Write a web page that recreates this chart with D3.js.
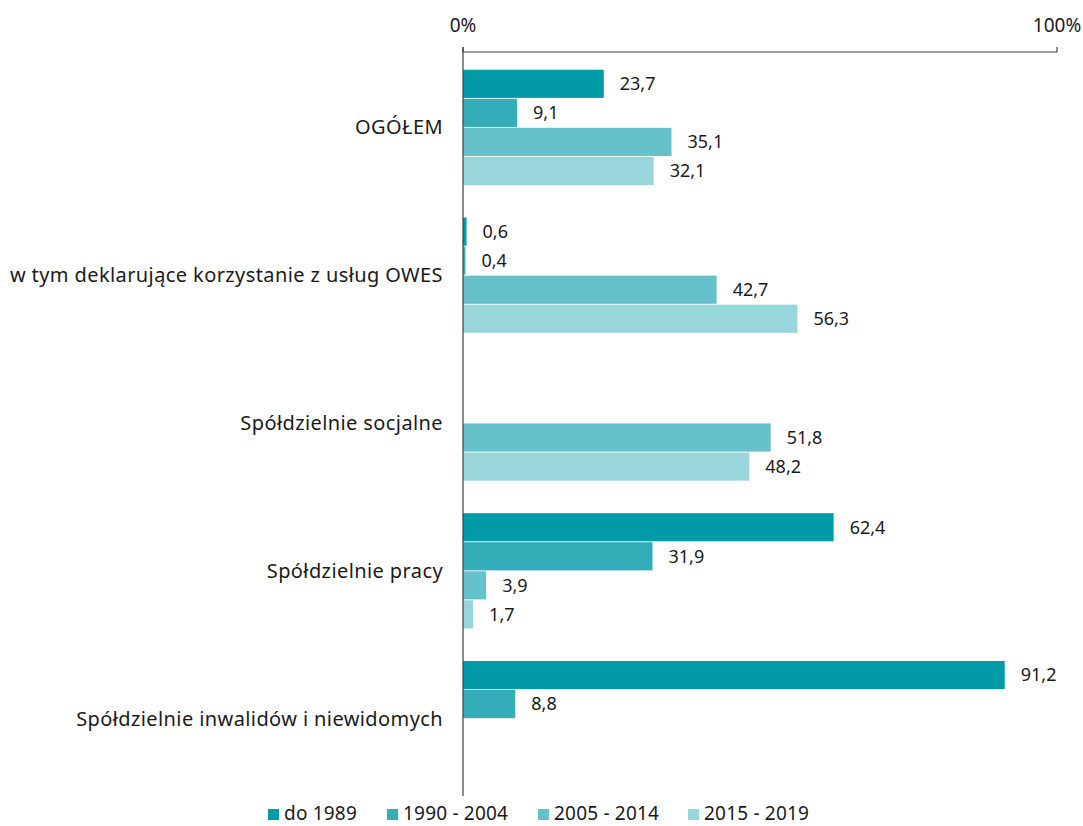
<!DOCTYPE html>
<html>
<head>
<meta charset="utf-8">
<script src="https://cdn.jsdelivr.net/npm/d3@7"></script>
<style>
  body { margin: 0; background: #fff; }
  text { font-family: "Noto Sans", "Open Sans", sans-serif; fill: #1a1a1a; }
</style>
</head>
<body>
<script>
var categories = ["OGÓŁEM", "w tym deklarujące korzystanie z usług OWES", "Spółdzielnie socjalne",
                  "Spółdzielnie pracy", "Spółdzielnie inwalidów i niewidomych"];
var series = ["do 1989", "1990 - 2004", "2005 - 2014", "2015 - 2019"];
var colors = ["#009ba6", "#33adb8", "#66c2ca", "#99d6db"];
var do1989 = [23.7, 0.6, null, 62.4, 91.2];
var y1990_2004 = [9.1, 0.4, null, 31.9, 8.8];
var y2005_2014 = [35.1, 42.7, 51.8, 3.9, null];
var y2015_2019 = [32.1, 56.3, 48.2, 1.7, null];
var axisTicks = [0, 100];

var values = [do1989, y1990_2004, y2005_2014, y2015_2019];

var width = 1083, height = 826;

var svg = d3.select("body").append("svg")
    .attr("width", width)
    .attr("height", height);

var x = d3.scaleLinear().domain([0, 100]).range([463, 1057]);

var y0 = d3.scaleBand().domain(categories).range([52, 794])
    .paddingInner(0.22).paddingOuter(0.12);

var y1 = d3.scaleBand().domain(series).range([0, y0.bandwidth()]).paddingInner(0.03);

// top axis
var axisY = 52;
svg.append("line")
    .attr("x1", x(0)).attr("x2", x(100))
    .attr("y1", axisY).attr("y2", axisY)
    .attr("stroke", "#404040").attr("stroke-width", 1.2);

svg.selectAll(".tick")
    .data(axisTicks)
  .enter().append("line")
    .attr("x1", function(d) { return x(d); })
    .attr("x2", function(d) { return x(d); })
    .attr("y1", axisY - 5).attr("y2", axisY)
    .attr("stroke", "#404040").attr("stroke-width", 1.2);

svg.selectAll(".tickLabel")
    .data(axisTicks)
  .enter().append("text")
    .attr("x", function(d) { return x(d); })
    .attr("y", 32)
    .attr("text-anchor", "middle")
    .style("font-size", "19px")
    .text(function(d) { return d + "%"; });

// groups
var rows = [];
categories.forEach(function(c, i) {
  series.forEach(function(s, j) {
    if (values[j][i] != null) rows.push({cat: c, ser: s, idx: j, v: values[j][i]});
  });
});

svg.append("g").selectAll("rect")
    .data(rows)
  .enter().append("rect")
    .attr("x", x(0))
    .attr("y", function(d) { return y0(d.cat) + y1(d.ser); })
    .attr("width", function(d) { return x(d.v) - x(0); })
    .attr("height", y1.bandwidth())
    .attr("fill", function(d) { return colors[d.idx]; });

svg.append("g").selectAll("text")
    .data(rows)
  .enter().append("text")
    .attr("x", function(d) { return x(d.v) + 16; })
    .attr("y", function(d) { return y0(d.cat) + y1(d.ser) + y1.bandwidth() / 2; })
    .attr("dy", "0.35em")
    .style("font-size", "18px")
    .text(function(d) { return d3.format(".1f")(d.v).replace(".", ","); });

// category labels
svg.append("g").selectAll("text")
    .data(categories)
  .enter().append("text")
    .attr("x", 443)
    .attr("y", function(d) { return y0(d) + y0.bandwidth() / 2; })
    .attr("dy", "0.35em")
    .attr("text-anchor", "end")
    .style("font-size", "20px")
    .style("letter-spacing", "0.4px")
    .text(function(d) { return d; });

// vertical axis
svg.append("line")
    .attr("x1", x(0)).attr("x2", x(0))
    .attr("y1", axisY - 5).attr("y2", 796)
    .attr("stroke", "#404040").attr("stroke-width", 1.2);

// legend
var legendX = [268, 387, 538, 688];
var legend = svg.append("g").selectAll("g")
    .data(series)
  .enter().append("g")
    .attr("transform", function(d, i) { return "translate(" + legendX[i] + ",809)"; });

legend.append("rect")
    .attr("width", 11).attr("height", 11)
    .attr("fill", function(d, i) { return colors[i]; });

legend.append("text")
    .attr("x", 16).attr("y", 11)
    .style("font-size", "19px")
    .style("letter-spacing", "0.2px")
    .text(function(d) { return d; });
</script>
</body>
</html>
